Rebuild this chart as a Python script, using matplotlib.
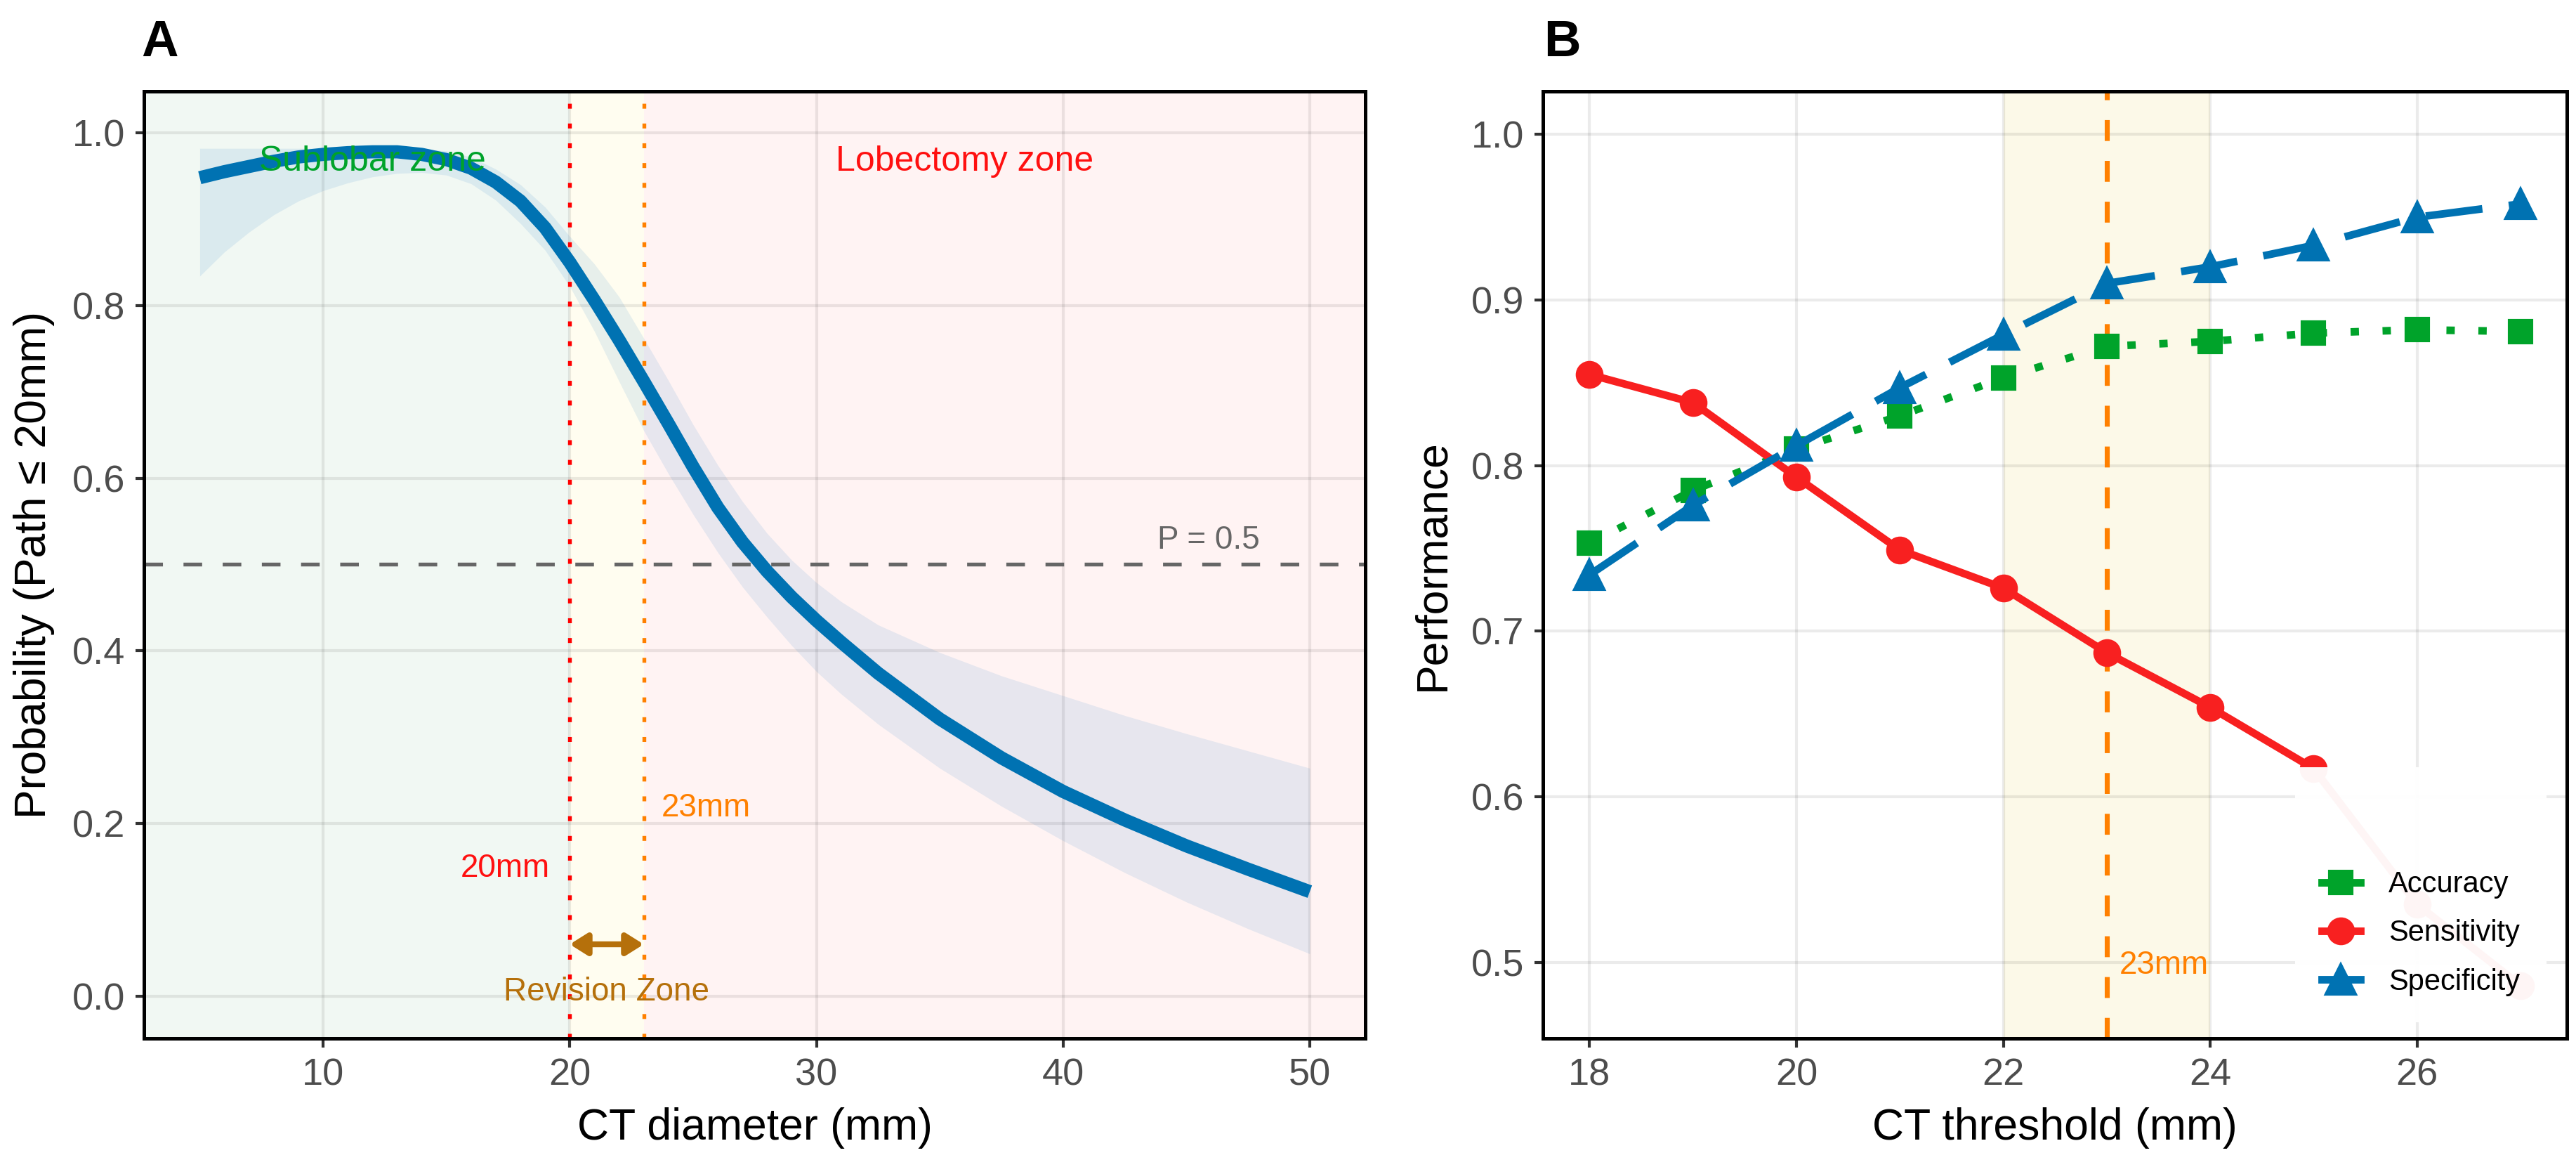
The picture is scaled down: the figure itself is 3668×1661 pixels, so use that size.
import numpy as np
import matplotlib
matplotlib.use("Agg")
import matplotlib.pyplot as plt
from matplotlib.lines import Line2D

plt.rcParams['font.family'] = ['Liberation Sans', 'DejaVu Sans']

# --- panel A data: fitted probability curve and its CI ---
diameter = [5, 6, 7, 8, 9, 10, 11, 12, 13, 14, 15, 16, 17, 18, 19, 20, 21, 22, 23, 24, 25, 26,
            27, 28, 29, 30, 31, 32.5, 35, 37.5, 40, 42.5, 45, 47.5, 50]
prob = [0.948, 0.955, 0.961, 0.967, 0.972, 0.975, 0.977, 0.978, 0.978, 0.975, 0.969,
        0.959, 0.943, 0.921, 0.890, 0.850, 0.806, 0.760, 0.712, 0.663, 0.613, 0.566, 0.526,
        0.492, 0.462, 0.435, 0.410, 0.374, 0.321, 0.276, 0.237, 0.204, 0.174, 0.147, 0.121]
prob_hi = [0.982, 0.982, 0.982, 0.982, 0.982, 0.982, 0.982, 0.982, 0.982, 0.981, 0.979,
           0.972, 0.958, 0.940, 0.914, 0.880, 0.848, 0.810, 0.762, 0.713, 0.662, 0.615, 0.573,
           0.536, 0.505, 0.479, 0.457, 0.430, 0.398, 0.371, 0.348, 0.325, 0.304, 0.284, 0.264]
prob_lo = [0.834, 0.862, 0.885, 0.905, 0.921, 0.933, 0.942, 0.949, 0.953, 0.954, 0.951,
           0.941, 0.922, 0.895, 0.864, 0.822, 0.770, 0.712, 0.655, 0.605, 0.558, 0.514, 0.474,
           0.439, 0.406, 0.376, 0.350, 0.315, 0.264, 0.220, 0.180, 0.143, 0.109, 0.078, 0.049]
cut_low, cut_high = 20, 23

# --- panel B data: performance by threshold ---
threshold = [18, 19, 20, 21, 22, 23, 24, 25, 26, 27]
accuracy = [0.753, 0.785, 0.810, 0.830, 0.853, 0.872, 0.875, 0.880, 0.882, 0.881]
sensitivity = [0.855, 0.838, 0.793, 0.749, 0.726, 0.687, 0.654, 0.617, 0.535, 0.486]
specificity = [0.734, 0.776, 0.812, 0.847, 0.879, 0.910, 0.920, 0.933, 0.950, 0.958]
best_cut = 23
band = (22, 24)

BLUE = '#0072B2'
GREEN = '#00A32A'
RED = '#F82020'
ORANGE = '#FF8000'
BROWN = '#B5700B'
TICK = dict(direction='out', length=3, width=1, color='#333333', labelsize=13,
            labelcolor='#4D4D4D', pad=3.5)


def style_axes(ax):
    for s in ax.spines.values():
        s.set_linewidth(1.2)
        s.set_color('black')
    ax.grid(True, color='black', alpha=0.08, lw=1.0)
    ax.tick_params(**TICK)


fig = plt.figure(figsize=(3668 / 300, 1661 / 300), dpi=300)
ax1 = fig.add_axes([0.056, 0.1102, 0.474, 0.8115])
ax2 = fig.add_axes([0.599, 0.1102, 0.3975, 0.8115])

# ---------------- panel A ----------------
ax1.set_xlim(2.75, 52.25)
ax1.set_ylim(-0.049, 1.048)
x0, x1 = ax1.get_xlim()
ax1.axvspan(x0, cut_low, color='#F1F8F3', lw=0, zorder=0.5)
ax1.axvspan(cut_low, cut_high, color='#FFFDF0', lw=0, zorder=0.5)
ax1.axvspan(cut_high, x1, color='#FFF3F3', lw=0, zorder=0.5)

ax1.fill_between(diameter, prob_lo, prob_hi, color='#1478C8', alpha=0.1, lw=0, zorder=1.8)
ax1.axhline(0.5, color='#666666', lw=1.3, ls=(0, (4.9, 5.4)), zorder=2)
ax1.axvline(cut_low, color='#FF0000', lw=1.3, ls=(0, (1.3, 3.9)), zorder=2.1)
ax1.axvline(cut_high, color=ORANGE, lw=1.3, ls=(0, (1.3, 3.9)), zorder=2.1)
ax1.plot(diameter, prob, color=BLUE, lw=4.5, solid_capstyle='butt', solid_joinstyle='round',
         zorder=3)

ax1.annotate('', xy=(cut_high, 0.06), xytext=(cut_low, 0.06),
             arrowprops=dict(arrowstyle='<|-|>,head_length=0.35,head_width=0.22', color=BROWN,
                             lw=2.0, mutation_scale=14, shrinkA=0, shrinkB=0), zorder=4)
ax1.text((cut_low + cut_high) / 2, 0.005, 'Revision Zone', color=BROWN, fontsize=11,
         ha='center', va='center', zorder=4)
ax1.text(12, 0.967, 'Sublobar zone', color=GREEN, fontsize=12, ha='center', va='center', zorder=4)
ax1.text(36, 0.967, 'Lobectomy zone', color='#FF1010', fontsize=12, ha='center', va='center', zorder=4)
ax1.text(45.9, 0.528, 'P = 0.5', color='#666666', fontsize=11, ha='center', va='center', zorder=4)
ax1.text(19.2, 0.148, '20mm', color='#FF1010', fontsize=11, ha='right', va='center', zorder=4)
ax1.text(23.7, 0.218, '23mm', color=ORANGE, fontsize=11, ha='left', va='center', zorder=4)

ax1.set_xticks([10, 20, 30, 40, 50])
ax1.set_yticks([0.0, 0.2, 0.4, 0.6, 0.8, 1.0])
ax1.set_yticklabels(['0.0', '0.2', '0.4', '0.6', '0.8', '1.0'])
ax1.set_xlabel('CT diameter (mm)', fontsize=15, labelpad=5)
ax1.set_ylabel('Probability (Path \u2264 20mm)', fontsize=15, labelpad=6)
style_axes(ax1)

# ---------------- panel B ----------------
ax2.set_xlim(17.55, 27.45)
ax2.set_ylim(0.454, 1.026)
ax2.axvspan(band[0], band[1], color='#FCF9E8', lw=0, zorder=0.5)
ax2.axvline(best_cut, color=ORANGE, lw=1.7, ls=(0, (4.2, 4.0)), zorder=2)
ax2.text(best_cut + 0.12, 0.498, '23mm', color=ORANGE, fontsize=11, ha='left', va='center', zorder=4)

ax2.plot(threshold, accuracy, color=GREEN, lw=2.6, ls=(0, (1.1, 3.1)), marker='s', ms=7.8,
         zorder=3)
ax2.plot(threshold, sensitivity, color=RED, lw=2.6, marker='o', ms=8.5, zorder=3)
ax2.plot(threshold, specificity, color=BLUE, lw=2.6, ls=(0, (7.5, 3.5)), marker='^', ms=10,
         zorder=3)

handles = [Line2D([], [], color=GREEN, lw=2.6, marker='s', ms=7.8),
           Line2D([], [], color=RED, lw=2.6, marker='o', ms=8.5),
           Line2D([], [], color=BLUE, lw=2.6, marker='^', ms=10)]
leg = ax2.legend(handles, ['Accuracy', 'Sensitivity', 'Specificity'], loc='lower right',
                 bbox_to_anchor=(0.98, 0.017), borderaxespad=0, fontsize=10, title=' ',
                 title_fontsize=21, frameon=True, fancybox=False, framealpha=0.96,
                 edgecolor='none', facecolor='white', handlelength=1.32, handletextpad=0.98,
                 labelspacing=0.7, borderpad=0.9)
leg.set_zorder(5)

ax2.set_xticks([18, 20, 22, 24, 26])
ax2.set_yticks([0.5, 0.6, 0.7, 0.8, 0.9, 1.0])
ax2.set_yticklabels(['0.5', '0.6', '0.7', '0.8', '0.9', '1.0'])
ax2.set_xlabel('CT threshold (mm)', fontsize=15, labelpad=5)
ax2.set_ylabel('Performance', fontsize=15, labelpad=6)
style_axes(ax2)

fig.text(201 / 3668, 1 - 80 / 1661, 'A', fontsize=17.5, weight='bold', ha='left', va='baseline')
fig.text(2198 / 3668, 1 - 80 / 1661, 'B', fontsize=17.5, weight='bold', ha='left', va='baseline')

fig.savefig('out.png', dpi=300)
